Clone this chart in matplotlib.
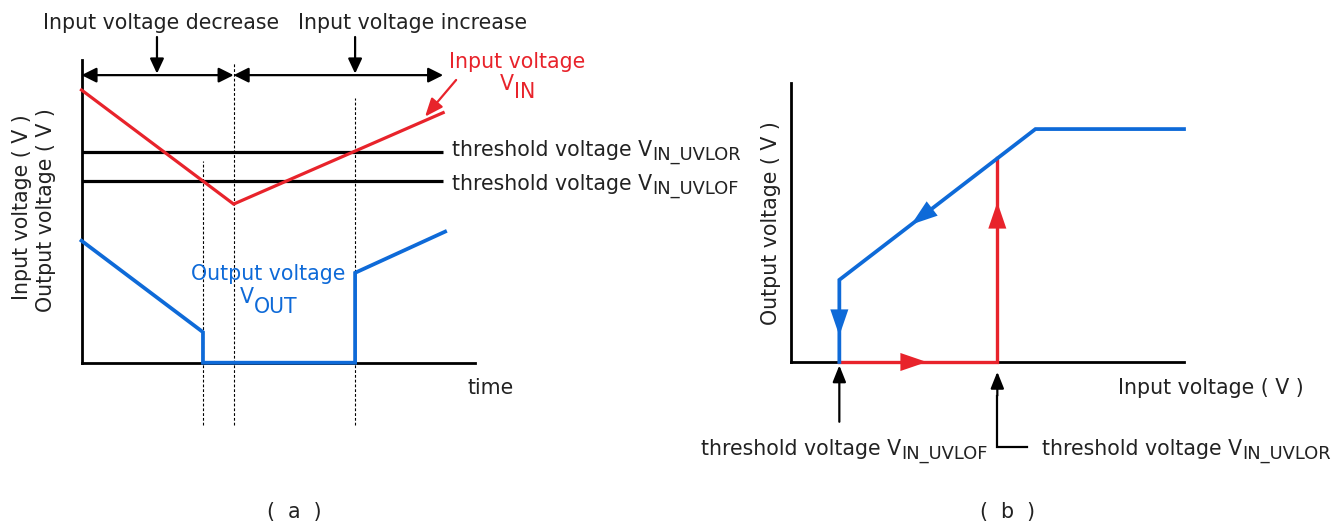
import matplotlib
matplotlib.use("Agg")
import matplotlib.pyplot as plt
import numpy as np

# ---------------- data ----------------
# Panel (a): time chart (arbitrary units, 0..100)
t_vin = [0, 38.7, 92.0]
v_in = [90.1, 52.4, 82.6]
t_out = [0, 30.9, 30.9, 69.6, 69.6, 92.5]
v_out = [40.3, 10.1, 0, 0, 29.7, 43.3]
v_uvlor = 69.6
v_uvlof = 60.0
t_threshold_end = 92.0
t_marks = [30.9, 38.7, 69.6]          # UVLO off, input minimum, UVLO release
t_phase = [0, 38.7, 92.0]             # decrease / increase phases
t_phase_mid = [19.2, 69.6]
phase_labels = ["Input voltage decrease", "Input voltage increase"]

# Panel (b): transfer characteristic (arbitrary units, 0..100)
b_uvlof = 12.3
b_uvlor = 52.5
b_blue_x = [100, 62.2, 12.3, 12.3]
b_blue_y = [83.4, 83.4, 29.4, 0]
b_red_x = [12.3, 52.5, 52.5]
b_red_y = [0, 0, 72.9]

RED = "#E8232B"
BLUE = "#0E6AD8"
TXT = "#222222"

plt.rcParams['font.family'] = ['DejaVu Sans']

W, H = 1341, 526
fig = plt.figure(figsize=(W / 100, H / 100), dpi=100)
renderer = fig.canvas.get_renderer()
FS = 14.8
SUBFS = 12.9


def axes_px(x0, y0, x1, y1):
    """x0,y0 = origin pixel (left,bottom); x1,y1 = right/top pixel"""
    return fig.add_axes([x0 / W, 1 - y0 / H, (x1 - x0) / W, (y0 - y1) / H])


def ftext(x, y, s, **kw):
    kw.setdefault('fontsize', FS)
    kw.setdefault('color', TXT)
    return fig.text(x / W, 1 - y / H, s, **kw)


def subtext(x, y, main, sub, ha='left', color=TXT, fs=FS, sfs=SUBFS, drop=4):
    """main text + subscript; x,y = pixel position of baseline."""
    t1 = fig.text(0, 0, main, fontsize=fs, color=color, va='baseline')
    t2 = fig.text(0, 0, sub, fontsize=sfs, color=color, va='baseline')
    w1 = t1.get_window_extent(renderer).width
    w2 = t2.get_window_extent(renderer).width
    x0 = x if ha == 'left' else x - (w1 + w2) / 2
    t1.set_position((x0 / W, 1 - y / H))
    t2.set_position(((x0 + w1) / W, 1 - (y + drop) / H))


def style_axes(ax):
    ax.set_xlim(0, 100)
    ax.set_ylim(0, 100)
    for sp in ['top', 'right']:
        ax.spines[sp].set_visible(False)
    for sp in ['left', 'bottom']:
        ax.spines[sp].set_linewidth(2.0)
        ax.spines[sp].set_color('black')
    ax.set_xticks([])
    ax.set_yticks([])
    ax.patch.set_alpha(0)


def head(ax, xs, ys, frac, color, L=19, hw=6.5):
    """Arrowhead along segment (xs[0],ys[0])->(xs[1],ys[1]), centred at frac."""
    p0 = ax.transData.transform((xs[0], ys[0]))
    p1 = ax.transData.transform((xs[1], ys[1]))
    d = p1 - p0
    u = d / np.hypot(*d)
    Lpx = L * fig.dpi / 72
    c = p0 + frac * d
    tip = c + u * Lpx / 2
    tail = c - u * Lpx / 2
    inv = ax.transData.inverted()
    ax.annotate('', xy=inv.transform(tip), xytext=inv.transform(tail),
                arrowprops=dict(arrowstyle=f'-|>,head_length={L},head_width={hw}',
                                mutation_scale=1, color=color, lw=0,
                                shrinkA=0, shrinkB=0),
                annotation_clip=False, zorder=4)


def arrow(ax, xy_from, xy_to, color='black', lw=1.5, L=9, hw=4.5, style='-|>'):
    ax.annotate('', xy=xy_to, xytext=xy_from,
                arrowprops=dict(arrowstyle=f'{style},head_length={L},head_width={hw}',
                                mutation_scale=1, color=color, lw=lw,
                                shrinkA=0, shrinkB=0),
                annotation_clip=False)


# ---------------- panel (a) ----------------
axa = axes_px(81.5, 362.7, 474.6, 60)
style_axes(axa)

for v in (v_uvlor, v_uvlof):
    axa.plot([0, t_threshold_end], [v, v], color='black', lw=2.3,
             solid_capstyle='butt', clip_on=False, zorder=3)
axa.plot(t_vin, v_in, color=RED, lw=2.3, clip_on=False,
         solid_joinstyle='miter', zorder=3.2)
axa.plot(t_out, v_out, color=BLUE, lw=2.7, clip_on=False,
         solid_joinstyle='miter', zorder=3.2)

dash_tops = [66.6, 99.4, 87.5]
for t, top in zip(t_marks, dash_tops):
    axa.plot([t, t], [-20.5, top], color='black', lw=0.8,
             ls=(0, (2.5, 1.8)), clip_on=False, zorder=1)

arrow(axa, (t_phase[0], 95), (t_phase[1], 95), style='<|-|>', lw=1.6, L=9, hw=4.5)
arrow(axa, (t_phase[1], 95), (t_phase[2], 95), style='<|-|>', lw=1.6, L=9, hw=4.5)
for t in t_phase_mid:
    arrow(axa, (t, 107.6), (t, 95.5), lw=1.6, L=9, hw=4.2)

ftext(161, 23, phase_labels[0], ha='center', va='center')
ftext(413, 23, phase_labels[1], ha='center', va='center')

arrow(axa, (95.3, 93.4), (87.4, 81.3), color=RED, lw=1.6, L=11, hw=4.5)
ftext(517.5, 68, "Input voltage", ha='center', va='baseline', color=RED)
subtext(517.5, 90, "V", "IN", ha='center', color=RED, fs=FS, sfs=FS, drop=8)

ftext(268, 280, "Output voltage", ha='center', va='baseline', color=BLUE)
subtext(269, 303, "V", "OUT", ha='center', color=BLUE, fs=FS, sfs=FS, drop=10)

subtext(452, 156, "threshold voltage V", "IN_UVLOR")
subtext(452, 190, "threshold voltage V", "IN_UVLOF")

ftext(468, 394, "time", ha='left', va='baseline')
ftext(22, 207, "Input voltage ( V )", rotation=90, ha='center', va='center')
ftext(46, 210, "Output voltage ( V )", rotation=90, ha='center', va='center')

ftext(294, 512, "(  a  )", ha='center', va='center', fontsize=FS)

# ---------------- panel (b) ----------------
axb = axes_px(791, 362, 1184, 82.7)
style_axes(axb)

axb.plot(b_red_x, b_red_y, color=RED, lw=2.4, clip_on=False,
         solid_joinstyle='miter', zorder=3)
axb.plot(b_blue_x, b_blue_y, color=BLUE, lw=2.7, clip_on=False,
         solid_joinstyle='miter', zorder=3.2)

head(axb, b_blue_x[1:3], b_blue_y[1:3], 0.58, BLUE)
head(axb, b_blue_x[2:4], b_blue_y[2:4], 0.52, BLUE)
head(axb, b_red_x[0:2], b_red_y[0:2], 0.47, RED)
head(axb, b_red_x[1:3], b_red_y[1:3], 0.72, RED)

arrow(axb, (b_uvlof, -21.4), (b_uvlof, -1.2), lw=1.6, L=10, hw=4)
axb.plot([b_uvlor, b_uvlor, 60.0], [-12, -30.4, -30.4], color='black', lw=1.6,
         clip_on=False, solid_joinstyle='miter')
arrow(axb, (b_uvlor, -12), (b_uvlor, -3.5), lw=1.6, L=10, hw=4)

subtext(701, 455, "threshold voltage V", "IN_UVLOF")
subtext(1042, 455, "threshold voltage V", "IN_UVLOR")
ftext(1118, 394, "Input voltage ( V )", ha='left', va='baseline')
ftext(771, 223.5, "Output voltage ( V )", rotation=90, ha='center', va='center')

ftext(1008, 512, "(  b  )", ha='center', va='center', fontsize=FS)

fig.savefig("out.png", dpi=100)
